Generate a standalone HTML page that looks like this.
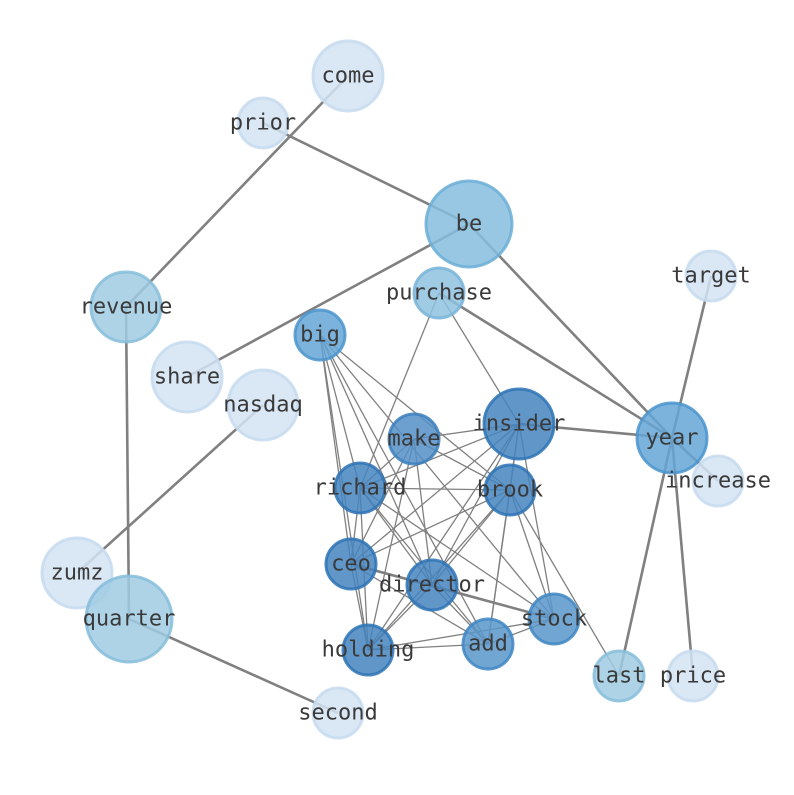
<!DOCTYPE html>
<html><head><meta charset="utf-8"><style>body{margin:0;background:#fff}</style></head><body>
<svg width="794" height="790" xmlns="http://www.w3.org/2000/svg">
<g stroke="#808080" stroke-width="2.6" fill="none">
<line x1="348" y1="76" x2="126" y2="307"/>
<line x1="263" y1="123" x2="469" y2="224"/>
<line x1="469" y1="224" x2="187" y2="377"/>
<line x1="469" y1="224" x2="672" y2="438"/>
<line x1="439" y1="293" x2="672" y2="438"/>
<line x1="519" y1="424" x2="672" y2="438"/>
<line x1="711" y1="276" x2="672" y2="438"/>
<line x1="718" y1="481" x2="672" y2="438"/>
<line x1="619" y1="676" x2="672" y2="438"/>
<line x1="693" y1="676" x2="672" y2="438"/>
<line x1="126" y1="307" x2="129" y2="619"/>
<line x1="263" y1="405" x2="77" y2="573"/>
<line x1="129" y1="619" x2="338" y2="713"/>
<line x1="351" y1="564" x2="554" y2="619"/>
</g>
<g stroke="#808080" stroke-width="1.3">
<line x1="320" y1="335" x2="351" y2="564"/><line x1="320" y1="335" x2="368" y2="650"/>
<line x1="320" y1="335" x2="360" y2="488"/><line x1="320" y1="335" x2="432" y2="585"/>
<line x1="320" y1="335" x2="488" y2="644"/><line x1="320" y1="335" x2="510" y2="490"/>
<line x1="320" y1="335" x2="554" y2="619"/>
<line x1="439" y1="293" x2="360" y2="488"/><line x1="439" y1="293" x2="519" y2="424"/>
<line x1="414" y1="439" x2="519" y2="424"/><line x1="414" y1="439" x2="360" y2="488"/>
<line x1="414" y1="439" x2="351" y2="564"/><line x1="414" y1="439" x2="368" y2="650"/>
<line x1="414" y1="439" x2="432" y2="585"/><line x1="414" y1="439" x2="510" y2="490"/>
<line x1="519" y1="424" x2="360" y2="488"/><line x1="519" y1="424" x2="351" y2="564"/>
<line x1="519" y1="424" x2="510" y2="490"/><line x1="519" y1="424" x2="432" y2="585"/>
<line x1="519" y1="424" x2="368" y2="650"/><line x1="519" y1="424" x2="488" y2="644"/>
<line x1="519" y1="424" x2="554" y2="619"/>
<line x1="360" y1="488" x2="510" y2="490"/><line x1="360" y1="488" x2="351" y2="564"/>
<line x1="360" y1="488" x2="368" y2="650"/><line x1="360" y1="488" x2="432" y2="585"/>
<line x1="360" y1="488" x2="488" y2="644"/><line x1="360" y1="488" x2="554" y2="619"/>
<line x1="510" y1="490" x2="351" y2="564"/><line x1="510" y1="490" x2="432" y2="585"/>
<line x1="510" y1="490" x2="368" y2="650"/><line x1="510" y1="490" x2="488" y2="644"/>
<line x1="510" y1="490" x2="554" y2="619"/><line x1="510" y1="490" x2="619" y2="676"/>
<line x1="351" y1="564" x2="432" y2="585"/><line x1="351" y1="564" x2="368" y2="650"/>
<line x1="351" y1="564" x2="488" y2="644"/>
<line x1="432" y1="585" x2="368" y2="650"/><line x1="432" y1="585" x2="488" y2="644"/>
<line x1="432" y1="585" x2="554" y2="619"/>
<line x1="368" y1="650" x2="488" y2="644"/><line x1="368" y1="650" x2="554" y2="619"/>
<line x1="488" y1="644" x2="554" y2="619"/>
</g>
<g stroke-width="3" fill-opacity="0.85" stroke-opacity="0.85">
<circle cx="348" cy="76" r="35" fill="#d3e3f3" stroke="#c6dbef"/>
<circle cx="263" cy="123" r="25" fill="#d3e3f3" stroke="#c6dbef"/>
<circle cx="469" cy="224" r="43" fill="#86bddf" stroke="#6baed6"/>
<circle cx="711" cy="276" r="25" fill="#d3e3f3" stroke="#c6dbef"/>
<circle cx="126" cy="307" r="35" fill="#a0cbe3" stroke="#86bddb"/>
<circle cx="439" cy="293" r="25" fill="#8fc2e1" stroke="#78b4d9"/>
<circle cx="320" cy="335" r="25" fill="#64a6d6" stroke="#4a94cc"/>
<circle cx="187" cy="377" r="35" fill="#d3e3f3" stroke="#c6dbef"/>
<circle cx="263" cy="405" r="35" fill="#d3e3f3" stroke="#c6dbef"/>
<circle cx="519" cy="424" r="35" fill="#4584c0" stroke="#2d73b5"/>
<circle cx="414" cy="439" r="25" fill="#548fc7" stroke="#3b7fbd"/>
<circle cx="672" cy="438" r="35" fill="#64a6d6" stroke="#4a94cc"/>
<circle cx="360" cy="488" r="25" fill="#4584c0" stroke="#2d73b5"/>
<circle cx="510" cy="490" r="25" fill="#4584c0" stroke="#2d73b5"/>
<circle cx="718" cy="481" r="25" fill="#d3e3f3" stroke="#c6dbef"/>
<circle cx="77" cy="573" r="35" fill="#d3e3f3" stroke="#c6dbef"/>
<circle cx="351" cy="564" r="25" fill="#4584c0" stroke="#2d73b5"/>
<circle cx="432" cy="585" r="25" fill="#4584c0" stroke="#2d73b5"/>
<circle cx="129" cy="619" r="43" fill="#a0cbe3" stroke="#86bddb"/>
<circle cx="554" cy="619" r="25" fill="#5896cb" stroke="#3f86c2"/>
<circle cx="488" cy="644" r="25" fill="#5896cb" stroke="#3f86c2"/>
<circle cx="368" cy="650" r="25" fill="#4584c0" stroke="#2d73b5"/>
<circle cx="619" cy="676" r="25" fill="#a0cbe3" stroke="#86bddb"/>
<circle cx="693" cy="676" r="25" fill="#d3e3f3" stroke="#c6dbef"/>
<circle cx="338" cy="713" r="25" fill="#d3e3f3" stroke="#c6dbef"/>
</g>
<g font-family="DejaVu Sans Mono, Liberation Mono, monospace" font-size="22" fill="#3a3a3a" text-anchor="middle" dominant-baseline="central">
<text x="348" y="76">come</text><text x="263" y="123">prior</text><text x="469" y="224">be</text>
<text x="711" y="276">target</text><text x="126" y="307">revenue</text><text x="439" y="293">purchase</text>
<text x="320" y="335">big</text><text x="187" y="377">share</text><text x="263" y="405">nasdaq</text>
<text x="519" y="424">insider</text><text x="414" y="439">make</text><text x="672" y="438">year</text>
<text x="360" y="488">richard</text><text x="510" y="490">brook</text><text x="718" y="481">increase</text>
<text x="77" y="573">zumz</text><text x="351" y="564">ceo</text><text x="432" y="585">director</text>
<text x="129" y="619">quarter</text><text x="554" y="619">stock</text><text x="488" y="644">add</text>
<text x="368" y="650">holding</text><text x="619" y="676">last</text><text x="693" y="676">price</text>
<text x="338" y="713">second</text>
</g>
</svg>
</body></html>
